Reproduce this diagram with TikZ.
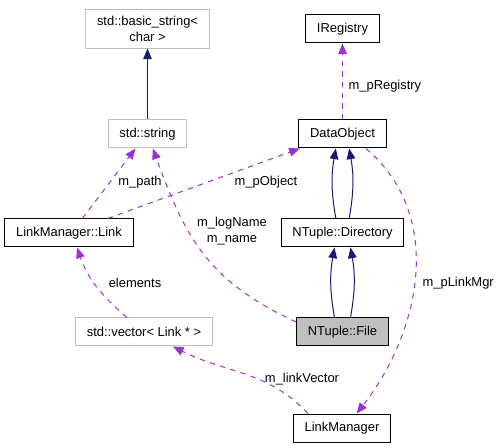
\documentclass[tikz,border=0pt]{standalone}
\usepackage{fontspec}
\setmainfont{Liberation Sans}
\usetikzlibrary{arrows.meta}
\definecolor{inhcol}{HTML}{191970}
\definecolor{usecol}{HTML}{9A32CD}
\definecolor{extgray}{HTML}{BFBFBF}

\begin{document}
\begin{tikzpicture}[x=.75pt,y=.75pt,>={Triangle[length=8pt,width=6.5pt]},
    font=\fontsize{9.7}{11.5}\selectfont,
    cls/.style={draw=black,line width=.75pt,inner xsep=8.5pt,inner ysep=5pt,minimum height=21pt,align=center},
    ext/.style={cls,draw=extgray},
    cur/.style={cls,fill=extgray},
    inh/.style={->,draw=inhcol,line width=.75pt},
    use/.style={->,draw=usecol,line width=.75pt,dash pattern=on 4pt off 4pt},
    lbl/.style={inner sep=1pt,align=center}]
            \useasboundingbox (0,0) rectangle (499,-448);
            % classes
            \node[ext] (bstr) at (147.5,-29) {std::basic\_string<\\char >};
            \node[ext] (str) at (147.5,-134) {std::string};
            \node[cls] (ireg) at (342.5,-29) {IRegistry};
            \node[cls] (dobj) at (342.5,-134) {DataObject};
            \node[cls] (link) at (69,-233) {LinkManager::Link};
            \node[cls] (dir) at (342.5,-233) {NTuple::Directory};
            \node[ext] (vec) at (144,-332) {std::vector< Link * >};
            \node[cur] (file) at (342.5,-332) {NTuple::File};
            \node[cls] (lmgr) at (342,-428) {LinkManager};
            % inheritance
            \draw[inh] (str) -- (bstr);
            \draw[inh] ([xshift=-5pt]dir.north) to[bend left=10] ([xshift=-5pt]dobj.south);
            \draw[inh] ([xshift=5pt]dir.north) to[bend right=10] ([xshift=5pt]dobj.south);
            \draw[inh] ([xshift=-6pt]file.north) to[bend left=10] ([xshift=-6pt]dir.south);
            \draw[inh] ([xshift=6pt]file.north) to[bend right=10] ([xshift=6pt]dir.south);
            % usage
            \draw[use] (dobj) -- (ireg);
            \draw[use] ([xshift=10pt]link.north) -- ([xshift=-9pt]str.south);
            \draw[use] ([xshift=29pt]link.north) -- ([xshift=-32pt]dobj.south);
            \draw[use] ([yshift=7.5pt]file.west) to[out=155,in=-70,looseness=1.1] ([xshift=4pt]str.south);
            \draw[use] ([xshift=-12.75pt]vec.north) to[out=139,in=-71] ([xshift=6pt]link.south);
            \draw[use] ([xshift=-25.5pt]lmgr.north) to[out=133,in=-27] ([xshift=21.75pt]vec.south);
            \draw[use] ([xshift=17.5pt]dobj.south) to[out=-40,in=52] ([xshift=11pt]lmgr.north);
            % labels
            \node[lbl,anchor=west] (lreg) at (347,-86) {m\_pRegistry};
            \node[lbl] (lpath) at (140,-182) {m\_path};
            \node[lbl] (lobj) at (266,-182) {m\_pObject};
            \node[lbl] (lname) at (232,-231) {m\_logName\\m\_name};
            \node[lbl] (lelem) at (135,-283) {elements};
            \node[lbl] (lvec) at (302,-379) {m\_linkVector};
            \node[lbl,anchor=west] (lmgrlbl) at (421,-283) {m\_pLinkMgr};
\end{tikzpicture}
\end{document}
